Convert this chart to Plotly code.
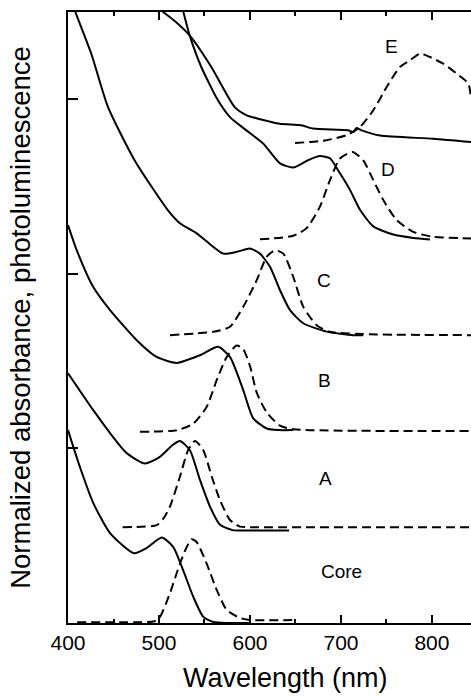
import plotly.graph_objects as go

# ---- data (wavelength in nm, normalized offset intensity) ----
core_abs_wl = [400, 413, 427.8, 446.2, 472.5, 486.5, 503, 515.7, 526.7, 537.7, 548.7, 559.7, 575, 600]
core_abs = [1.105, 0.895, 0.687, 0.515, 0.40, 0.43, 0.49, 0.435, 0.30, 0.15, 0.035, 0.006, 0.0, 0.0]

core_pl_wl = [410, 480, 495, 501, 512, 523, 530, 536, 541.4, 552.4, 563.4, 574.4, 589, 600, 650]
core_pl = [0.005, 0.005, 0.01, 0.034, 0.17, 0.34, 0.43, 0.48, 0.464, 0.34, 0.19, 0.075, 0.029, 0.017, 0.017]

a_abs_wl = [400, 427.8, 446.2, 464.5, 484.6, 501, 515, 523, 534, 545, 556, 567, 581, 600, 643]
a_abs = [1.431, 1.219, 1.088, 0.973, 0.914, 0.952, 1.02, 1.043, 0.99, 0.82, 0.667, 0.563, 0.532, 0.53, 0.53]

a_pl_wl = [460, 497.5, 505, 512, 523, 532, 539.6, 548.7, 558, 567, 578, 589, 600, 843]
a_pl = [0.549, 0.561, 0.60, 0.666, 0.838, 0.99, 1.043, 0.99, 0.838, 0.704, 0.590, 0.552, 0.549, 0.549]

b_abs_wl = [400, 410, 427.8, 446.2, 475.5, 497.5, 519.5, 545, 565, 578, 592.6, 603.6, 618.4, 631, 647.6]
b_abs = [2.28, 2.13, 1.924, 1.792, 1.620, 1.524, 1.490, 1.534, 1.582, 1.524, 1.334, 1.172, 1.114, 1.105, 1.105]

b_pl_wl = [479, 519.5, 537.7, 552.4, 563.4, 574.4, 585.4, 592.6, 600, 607.4, 618.4, 633, 647.6, 843]
b_pl = [1.095, 1.104, 1.142, 1.238, 1.391, 1.524, 1.59, 1.568, 1.472, 1.32, 1.206, 1.13, 1.11, 1.10]

c_abs_wl = [400, 407.4, 425.6, 444, 473.3, 509.9, 523, 541.4, 556, 570.6, 585.4, 600, 611, 622, 633, 644, 658.6, 684.3, 713.5, 724.5]
c_abs = [3.61, 3.509, 3.261, 2.955, 2.650, 2.364, 2.29, 2.232, 2.17, 2.116, 2.126, 2.145, 2.116, 2.04, 1.906, 1.792, 1.717, 1.669, 1.649, 1.649]

c_pl_wl = [512, 559.7, 578, 592.6, 607.4, 618.4, 627.5, 636.6, 647.6, 658.6, 673.3, 687.9, 843]
c_pl = [1.649, 1.668, 1.697, 1.811, 1.964, 2.098, 2.135, 2.116, 1.982, 1.811, 1.706, 1.668, 1.649]

d_abs_wl = [520, 526.4, 533.7, 546.5, 564.8, 578, 596, 614.6, 633, 647.6, 663.7, 676.9, 687.9, 698.9, 709.9, 720.9, 735.5, 757.5, 779.5, 797.8]
d_abs = [3.64, 3.509, 3.366, 3.185, 2.994, 2.898, 2.822, 2.746, 2.633, 2.609, 2.651, 2.675, 2.662, 2.576, 2.481, 2.367, 2.272, 2.225, 2.206, 2.197]

d_pl_wl = [611, 647.6, 662.3, 676.9, 687.9, 698.9, 712.6, 724.5, 735.5, 746.5, 761.2, 779.5, 801.4, 843]
d_pl = [2.198, 2.218, 2.262, 2.385, 2.537, 2.661, 2.698, 2.650, 2.537, 2.423, 2.308, 2.240, 2.212, 2.203]

e_abs_wl = [490, 502.5, 517, 533.7, 557.5, 583.2, 596.4, 608.8, 633, 656.4, 669.6, 707.7, 713.5, 717, 722.7, 742.9, 801.4, 843]
e_abs = [3.566, 3.509, 3.45, 3.366, 3.185, 2.955, 2.908, 2.889, 2.860, 2.851, 2.832, 2.823, 2.812, 2.835, 2.822, 2.792, 2.774, 2.755]

e_pl_wl = [649.5, 684.3, 706.3, 720.9, 735.5, 750.2, 764.8, 775.8, 786.8, 797.8, 812.4, 827.1, 839.9, 843]
e_pl = [2.749, 2.766, 2.795, 2.841, 2.937, 3.070, 3.185, 3.223, 3.261, 3.242, 3.204, 3.147, 3.09, 3.0]

labels = ["E", "D", "C", "B", "A", "Core"]
label_wl = [755, 752, 681, 682, 683, 701]
label_y = [3.30, 2.60, 1.963, 1.391, 0.83, 0.294]

x_title = "Wavelength (nm)"
y_title = "Normalized absorbance, photoluminescence"

FONT = "Liberation Sans, Arial, Helvetica, sans-serif"

fig = go.Figure()

abs_sets = [(core_abs_wl, core_abs), (a_abs_wl, a_abs), (b_abs_wl, b_abs),
            (c_abs_wl, c_abs), (d_abs_wl, d_abs), (e_abs_wl, e_abs)]
pl_sets = [(core_pl_wl, core_pl), (a_pl_wl, a_pl), (b_pl_wl, b_pl),
           (c_pl_wl, c_pl), (d_pl_wl, d_pl), (e_pl_wl, e_pl)]

for wl, v in abs_sets:
    fig.add_trace(go.Scatter(x=wl, y=v, mode="lines",
                             line=dict(color="black", width=2, shape="spline", smoothing=0.6),
                             showlegend=False, hoverinfo="skip"))
for wl, v in pl_sets:
    fig.add_trace(go.Scatter(x=wl, y=v, mode="lines",
                             line=dict(color="black", width=2, dash="9px,5px", shape="spline", smoothing=0.6),
                             showlegend=False, hoverinfo="skip"))

for t, lx, ly in zip(labels, label_wl, label_y):
    fig.add_annotation(x=lx, y=ly, text=t, showarrow=False,
                       font=dict(family=FONT, size=19, color="black"))

# x-axis title (centred as in the reference, where the axis runs past the right edge)
fig.add_annotation(x=0.5385, y=-0.09, xref="paper", yref="paper", text=x_title,
                   showarrow=False, xanchor="center", yanchor="middle",
                   font=dict(family=FONT, size=27, color="black"))

fig.update_layout(
    width=471, height=696,
    margin=dict(l=68, r=0, t=12, b=73, autoexpand=False),
    paper_bgcolor="white", plot_bgcolor="white",
    font=dict(family=FONT, color="black"),
    xaxis=dict(range=[400, 842.9], showline=True, linecolor="black", linewidth=2,
               mirror="ticks", ticks="inside", ticklen=8, tickwidth=1.5, tickcolor="black",
               tick0=400, dtick=100, showgrid=False, zeroline=False,
               minor=dict(ticks="inside", dtick=50, tick0=400, ticklen=4, tickwidth=1.5, tickcolor="black", showgrid=False),
               tickfont=dict(size=21, family=FONT, color="black")),
    yaxis=dict(range=[0, 3.5], showline=True, linecolor="black", linewidth=2,
               ticks="inside", ticklen=10, tickwidth=1.5, tickcolor="black",
               tickvals=[1, 2, 3], showticklabels=False, showgrid=False, zeroline=False,
               title=dict(text=y_title,
                          font=dict(size=27.5, family=FONT, color="black"), standoff=27)),
)

fig.write_html("out.html", config={"displayModeBar": False},
               post_script="document.body.style.margin='0';")
